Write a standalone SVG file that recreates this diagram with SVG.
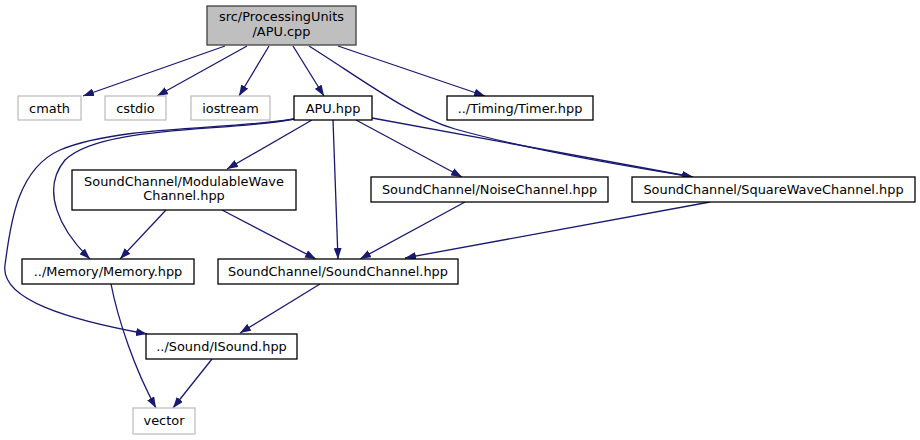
<svg xmlns="http://www.w3.org/2000/svg" width="920" height="440" viewBox="0 0 920 440">
<style>
.n rect{fill:#fff;stroke:#000;stroke-width:1.3}
.g rect{fill:#fff;stroke:#bfbfbf;stroke-width:1.3}
.r rect{fill:#bfbfbf;stroke:#404040;stroke-width:1.3}
text{font-family:"DejaVu Sans",sans-serif;font-size:12.9px;text-anchor:middle;fill:#000}
#edges path{fill:none;stroke:#191970;stroke-width:1.3;marker-end:url(#ah)}
</style>
<defs>
<marker id="ah" viewBox="0 0 11 8" refX="11" refY="4" markerWidth="11" markerHeight="8" markerUnits="userSpaceOnUse" orient="auto">
<path d="M0,0 L11,4 L0,8 z" fill="#191970"/>
</marker>
</defs>
<rect width="920" height="440" fill="#fff"/>
<g id="edges">
<path d="M225,46 L83,96"/>
<path d="M247,46 L157,96"/>
<path d="M269,46 L239,96"/>
<path d="M293,46 L324,96"/>
<path d="M309,46 C360,78 410,116 455,129 C530,150 620,165 693,177"/>
<path d="M338,46 L485,96"/>
<path d="M312,120 L227,169"/>
<path d="M333,120 L338,259"/>
<path d="M356,120 L462,177"/>
<path d="M372,118 L693,177"/>
<path d="M294,119 C230,132 100,125 65,160 C40,190 60,230 90,259"/>
<path d="M294,119 C230,130 120,125 60,150 C15,170 10,230 5,265 C0,300 70,320 147,334"/>
<path d="M166,210 L120,259"/>
<path d="M222,210 L316,259"/>
<path d="M465,202 L360,259"/>
<path d="M710,202 L405,258"/>
<path d="M320,284 L240,333"/>
<path d="M111,284 C118,320 135,370 156,408"/>
<path d="M212,359 L173,408"/>
</g>
<g id="root" class="r"><rect x="207" y="6" width="149" height="39"/><text x="281.5" y="21">src/ProcessingUnits</text><text x="281.5" y="36">/APU.cpp</text></g>
<g id="cmath" class="g"><rect x="18" y="96" width="63" height="24"/><text x="49.5" y="112.5">cmath</text></g>
<g id="cstdio" class="g"><rect x="105" y="96" width="61" height="24"/><text x="135.5" y="112.5">cstdio</text></g>
<g id="iostream" class="g"><rect x="191" y="96" width="79" height="24"/><text x="230.5" y="112.5">iostream</text></g>
<g id="apuhpp" class="n"><rect x="294" y="96" width="78" height="24"/><text x="333" y="112.5">APU.hpp</text></g>
<g id="timer" class="n"><rect x="447" y="96" width="146" height="24"/><text x="520" y="112.5">../Timing/Timer.hpp</text></g>
<g id="modwave" class="n"><rect x="72" y="170" width="224" height="40"/><text x="184" y="186">SoundChannel/ModulableWave</text><text x="184" y="200">Channel.hpp</text></g>
<g id="noise" class="n"><rect x="371" y="177" width="237" height="25"/><text x="489.5" y="194">SoundChannel/NoiseChannel.hpp</text></g>
<g id="square" class="n"><rect x="632" y="177" width="283" height="25"/><text x="773.5" y="194">SoundChannel/SquareWaveChannel.hpp</text></g>
<g id="memory" class="n"><rect x="22" y="259" width="172" height="25"/><text x="108" y="276">../Memory/Memory.hpp</text></g>
<g id="soundch" class="n"><rect x="218" y="259" width="240" height="25"/><text x="338" y="276">SoundChannel/SoundChannel.hpp</text></g>
<g id="isound" class="n"><rect x="146" y="334" width="151" height="25"/><text x="221.5" y="351">../Sound/ISound.hpp</text></g>
<g id="vector" class="g"><rect x="133" y="408" width="62" height="26"/><text x="164" y="425">vector</text></g>
</svg>
